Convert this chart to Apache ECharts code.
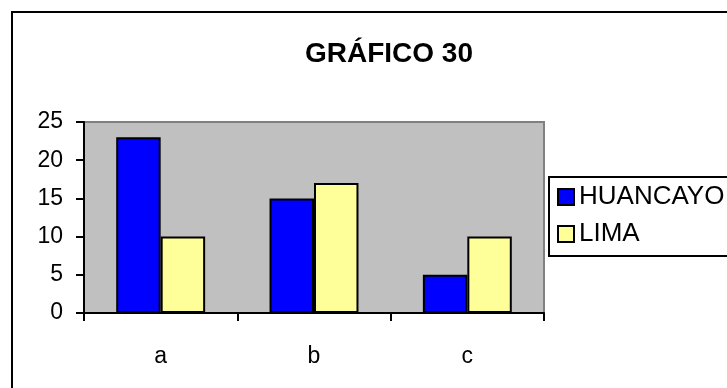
<!DOCTYPE html>
<html>
<head>
<meta charset="utf-8">
<script src="https://cdn.jsdelivr.net/npm/echarts@6/dist/echarts.min.js"></script>
<style>
  html, body { margin: 0; padding: 0; background: #fff; }
  #chart { width: 727px; height: 388px; }
</style>
</head>
<body>
<div id="chart"></div>
<script>
// Chart data
const categories = ['a', 'b', 'c'];
const huancayo = [23, 15, 5];
const lima = [10, 17, 10];
const seriesNames = ['HUANCAYO', 'LIMA'];
const yTicks = { min: 0, max: 25, step: 5 };
const titleText = 'GRÁFICO 30';

const FONT = '"Liberation Sans", Arial, sans-serif';
const chart = echarts.init(document.getElementById('chart'), null, { renderer: 'canvas' });

chart.setOption({
  backgroundColor: '#ffffff',
  animation: false,
  title: {
    text: titleText,
    left: 384,
    top: 35,
    textAlign: 'center',
    textStyle: { fontFamily: FONT, fontWeight: 'bold', fontSize: 28, color: '#000' }
  },
  graphic: [
    {
      // outer chart frame (runs past the right and bottom edges)
      type: 'rect',
      z: 0,
      shape: { x: 12, y: 12, width: 900, height: 600 },
      style: { fill: 'none', stroke: '#000', lineWidth: 2 },
      silent: true
    },
    {
      // legend frame
      type: 'rect',
      z: 1,
      shape: { x: 549, y: 177, width: 300, height: 79 },
      style: { fill: '#fff', stroke: '#000', lineWidth: 2 },
      silent: true
    }
  ],
  legend: {
    orient: 'vertical',
    left: 550,
    top: 178,
    padding: [6, 0, 6, 7],
    itemGap: 11,
    itemWidth: 16,
    itemHeight: 16,
    icon: 'rect',
    textStyle: { fontFamily: FONT, fontSize: 26, lineHeight: 26, color: '#000' },
    data: seriesNames
  },
  grid: {
    left: 84, top: 122, right: 183, bottom: 75,
    show: true,
    backgroundColor: '#c0c0c0',
    borderColor: '#808080',
    borderWidth: 2
  },
  xAxis: {
    type: 'category',
    data: categories,
    axisLine: { lineStyle: { color: '#000', width: 2 } },
    axisTick: { show: true, length: 8, lineStyle: { color: '#000', width: 2 } },
    axisLabel: { fontFamily: FONT, fontSize: 23, color: '#000', margin: 32 }
  },
  yAxis: {
    type: 'value',
    min: yTicks.min,
    max: yTicks.max,
    interval: yTicks.step,
    axisLine: { show: true, lineStyle: { color: '#000', width: 2 } },
    axisTick: { show: true, length: 8, lineStyle: { color: '#000', width: 2 } },
    splitLine: { show: false },
    axisLabel: { fontFamily: FONT, fontSize: 23, color: '#000', margin: 21 }
  },
  series: [
    {
      name: seriesNames[0],
      type: 'bar',
      data: huancayo,
      barGap: '0%',
      barCategoryGap: '42%',
      itemStyle: { color: '#0000ff', borderColor: '#000', borderWidth: 2 }
    },
    {
      name: seriesNames[1],
      type: 'bar',
      data: lima,
      itemStyle: { color: '#ffff99', borderColor: '#000', borderWidth: 2 }
    }
  ]
});
</script>
</body>
</html>
